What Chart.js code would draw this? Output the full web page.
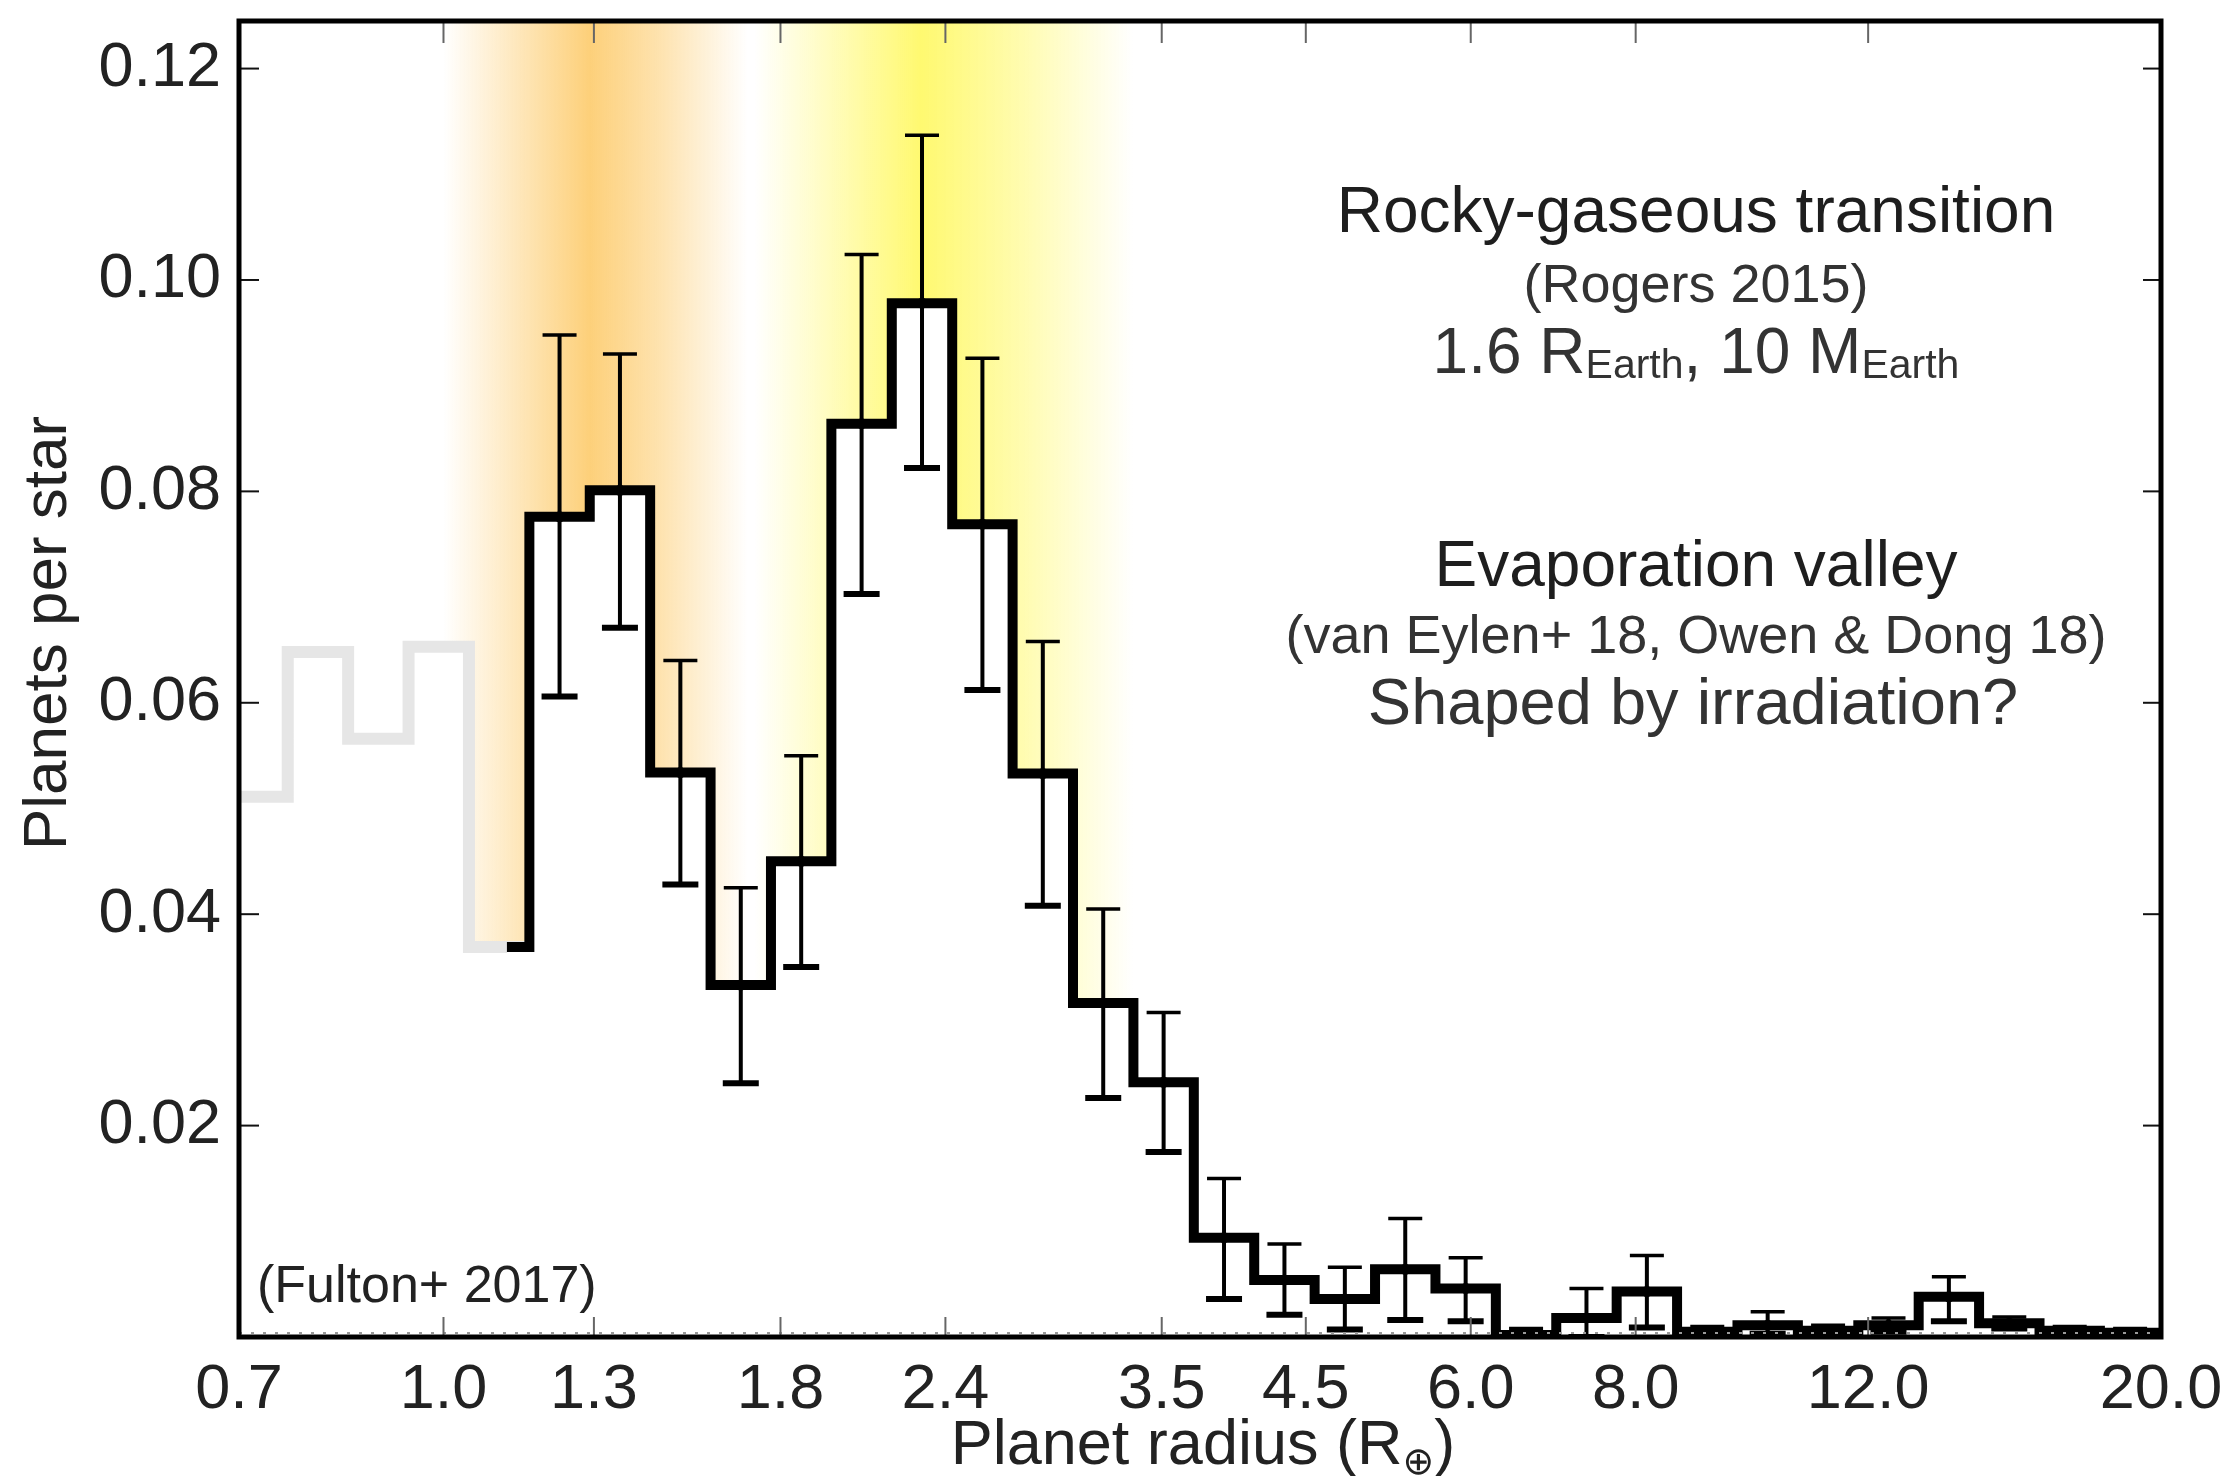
<!DOCTYPE html>
<html>
<head>
<meta charset="utf-8">
<script src="https://cdn.jsdelivr.net/npm/chart.js@4.4.1/dist/chart.umd.min.js"></script>
<style>
  html, body { margin: 0; padding: 0; background: #fff; }
  canvas { display: block; }
</style>
</head>
<body>
<canvas id="radiusChart" width="2232" height="1476"></canvas>
<script>
// Fulton+ 2017 planet radius distribution (log-spaced bins)
const greyEdges = [0.7, 0.7621, 0.8468, 0.9409, 1.0454, 1.1616];
const greyValues = [0.0511, 0.0648, 0.0566, 0.0653, 0.0369];

const blackStart = 1.117;
const blackStartValue = 0.0369;
const binEdges = [1.1616, 1.2906, 1.4340, 1.5934, 1.7704, 1.9671, 2.1857, 2.4286, 2.6984,
  2.9982, 3.3314, 3.7015, 4.1128, 4.5698, 5.0776, 5.6418, 6.2686, 6.9651, 7.7391, 8.5990,
  9.5544, 10.616, 11.796, 13.106, 14.562, 16.181, 17.978, 20.0];
const binCenters = [1.2244, 1.3604, 1.5116, 1.6796, 1.8662, 2.0736, 2.3040, 2.5600, 2.8444,
  3.1605, 3.5116, 3.9018, 4.3354, 4.8171, 5.3523, 5.9470, 6.6078, 7.3420, 8.1578, 9.0642,
  10.071, 11.190, 12.434, 13.815, 15.350, 17.056, 18.951];
const planetsPerStar = [0.0776, 0.0801, 0.0534, 0.0333, 0.0450, 0.0864, 0.0978, 0.0769, 0.0533,
  0.0316, 0.0241, 0.0094, 0.0054, 0.0036, 0.0064, 0.0046, 0.0002, 0.0018, 0.0043, 0.0005,
  0.0011, 0.0006, 0.0011, 0.0038, 0.0013, 0.0006, 0.0004];
const errHigh = [0.0948, 0.0930, 0.0640, 0.0425, 0.0550, 0.1024, 0.1137, 0.0926, 0.0658,
  0.0405, 0.0307, 0.0150, 0.0088, 0.0066, 0.0112, 0.0075, 0.0008, 0.0046, 0.0077, 0.0010,
  0.0024, 0.0011, 0.0018, 0.0057, 0.0019, 0.0010, 0.0008];
const errLow = [0.0606, 0.0671, 0.0428, 0.0240, 0.0350, 0.0703, 0.0822, 0.0612, 0.0408,
  0.0226, 0.0175, 0.0036, 0.0021, 0.0007, 0.0016, 0.0015, 0.0000, 0.0000, 0.0009, 0.0001,
  0.0003, 0.0002, 0.0005, 0.0015, 0.0008, 0.0002, 0.0000];

const xTicks = [0.7, 1.0, 1.3, 1.8, 2.4, 3.5, 4.5, 6.0, 8.0, 12.0, 20.0];
const yTicks = [0.02, 0.04, 0.06, 0.08, 0.10, 0.12];

// shaded bands: radius stops and opacity at each stop
const orangeStops = [1.0, 1.29, 1.46, 1.70];
const orangeAlpha = [0, 1, 0.6, 0];
const yellowStops = [1.72, 2.30, 2.75, 3.33];
const yellowAlpha = [0, 1, 0.55, 0];

const FONT = '"Liberation Sans", "DejaVu Sans", Arial, sans-serif';

const greyPoints = greyEdges.map((x, i) => ({ x: x, y: greyValues[Math.min(i, greyValues.length - 1)] }));
const blackPoints = [{ x: blackStart, y: blackStartValue }]
  .concat(binEdges.map((x, i) => ({ x: x, y: planetsPerStar[Math.min(i, planetsPerStar.length - 1)] })));
const dotPoints = binCenters.map((x, i) => ({ x: x, y: planetsPerStar[i] }));

function bandGradient(ctx, xs, area, stops, alphas, rgb) {
  const px = stops.map(v => xs.getPixelForValue(v));
  const x0 = px[0], x1 = px[px.length - 1];
  const g = ctx.createLinearGradient(x0, 0, x1, 0);
  px.forEach((p, i) => g.addColorStop((p - x0) / (x1 - x0), 'rgba(' + rgb + ',' + alphas[i] + ')'));
  ctx.fillStyle = g;
  ctx.fillRect(x0, area.top, x1 - x0, area.bottom - area.top);
}

const bandsPlugin = {
  id: 'bands',
  beforeDatasetsDraw(chart) {
    const ctx = chart.ctx, area = chart.chartArea, xs = chart.scales.x;
    ctx.save();
    ctx.beginPath();
    ctx.rect(area.left, area.top, area.right - area.left, area.bottom - area.top);
    ctx.clip();
    bandGradient(ctx, xs, area, orangeStops, orangeAlpha, '253,208,122');
    bandGradient(ctx, xs, area, yellowStops, yellowAlpha, '255,249,112');
    ctx.restore();
  }
};

const errorBarsPlugin = {
  id: 'errorBars',
  afterDatasetsDraw(chart) {
    const ctx = chart.ctx, area = chart.chartArea, xs = chart.scales.x, ys = chart.scales.y;
    ctx.save();
    ctx.beginPath();
    ctx.rect(area.left, area.top, area.right - area.left, area.bottom - area.top);
    ctx.clip();
    ctx.strokeStyle = '#000';
    binCenters.forEach((c, i) => {
      const x = xs.getPixelForValue(c);
      const yt = ys.getPixelForValue(errHigh[i]);
      const yb = ys.getPixelForValue(errLow[i]);
      ctx.lineWidth = 4;
      ctx.beginPath(); ctx.moveTo(x, yt); ctx.lineTo(x, yb); ctx.stroke();
      ctx.lineWidth = 3.5;
      ctx.beginPath(); ctx.moveTo(x - 17, yt); ctx.lineTo(x + 17, yt); ctx.stroke();
      ctx.lineWidth = 6;
      ctx.beginPath(); ctx.moveTo(x - 18, yb); ctx.lineTo(x + 18, yb); ctx.stroke();
    });
    ctx.restore();
  }
};

const framePlugin = {
  id: 'frame',
  afterDraw(chart) {
    const ctx = chart.ctx, a = chart.chartArea, xs = chart.scales.x, ys = chart.scales.y;
    ctx.save();
    // dotted minor ticks along the bottom
    ctx.strokeStyle = '#999';
    ctx.lineWidth = 2;
    ctx.setLineDash([3, 9]);
    ctx.beginPath(); ctx.moveTo(a.left, a.bottom - 4); ctx.lineTo(a.right, a.bottom - 4); ctx.stroke();
    ctx.setLineDash([]);
    // inward major ticks
    ctx.lineWidth = 2;
    ctx.strokeStyle = '#666';
    xTicks.forEach(v => {
      const x = xs.getPixelForValue(v);
      ctx.beginPath(); ctx.moveTo(x, a.bottom); ctx.lineTo(x, a.bottom - 20); ctx.stroke();
      ctx.beginPath(); ctx.moveTo(x, a.top); ctx.lineTo(x, a.top + 22); ctx.stroke();
    });
    ctx.strokeStyle = '#111';
    yTicks.forEach(v => {
      const y = ys.getPixelForValue(v);
      ctx.beginPath(); ctx.moveTo(a.left, y); ctx.lineTo(a.left + 20, y); ctx.stroke();
      ctx.beginPath(); ctx.moveTo(a.right, y); ctx.lineTo(a.right - 18, y); ctx.stroke();
    });
    // box
    ctx.lineWidth = 5;
    ctx.strokeStyle = '#000';
    ctx.strokeRect(a.left, a.top, a.right - a.left, a.bottom - a.top);
    ctx.restore();
  }
};

// text made of parts [text, size, dy], centred on cx
function richText(ctx, parts, cx, y, align) {
  let w = 0;
  parts.forEach(p => { ctx.font = p[1] + 'px ' + FONT; w += ctx.measureText(p[0]).width; });
  let x = align === 'left' ? cx : cx - w / 2;
  ctx.textAlign = 'left';
  parts.forEach(p => {
    ctx.font = p[1] + 'px ' + FONT;
    ctx.fillText(p[0], x, y + (p[2] || 0));
    x += ctx.measureText(p[0]).width;
  });
}

const notesPlugin = {
  id: 'notes',
  afterDraw(chart) {
    const ctx = chart.ctx;
    ctx.save();
    ctx.textBaseline = 'alphabetic';
    ctx.fillStyle = '#1e1e1e';
    richText(ctx, [['Rocky-gaseous transition', 64]], 1696, 232);
    richText(ctx, [['Evaporation valley', 64]], 1696, 586);
    ctx.fillStyle = '#333';
    richText(ctx, [['(Rogers 2015)', 54]], 1696, 302);
    richText(ctx, [['1.6 R', 64], ['Earth', 41, 5], [', 10 M', 64], ['Earth', 41, 5]], 1696, 373);
    richText(ctx, [['(van Eylen+ 18, Owen & Dong 18)', 54]], 1696, 653);
    richText(ctx, [['Shaped by irradiation?', 65]], 1693, 724);
    ctx.fillStyle = '#222';
    richText(ctx, [['(Fulton+ 2017)', 52]], 257, 1302, 'left');
    // axis titles
    richText(ctx, [['Planet radius (R', 63], ['\u2295', 38, 10], [')', 63]], 1203, 1464);
    ctx.translate(66, 633);
    ctx.rotate(-Math.PI / 2);
    richText(ctx, [['Planets per star', 62]], 0, 0);
    ctx.restore();
  }
};

new Chart(document.getElementById('radiusChart'), {
  type: 'line',
  data: {
    datasets: [
      {
        data: greyPoints,
        order: 3,
        stepped: true,
        borderColor: '#e6e6e6',
        borderWidth: 12,
        fill: 'origin',
        backgroundColor: '#ffffff',
        pointRadius: 0
      },
      {
        data: blackPoints,
        order: 2,
        stepped: true,
        borderColor: '#000',
        borderWidth: 10,
        fill: 'origin',
        backgroundColor: '#ffffff',
        pointRadius: 0
      },
      {
        data: dotPoints,
        order: 1,
        showLine: false,
        pointRadius: 5.5,
        pointBackgroundColor: '#000',
        pointBorderWidth: 0
      }
    ]
  },
  options: {
    responsive: false,
    animation: false,
    devicePixelRatio: 1,
    layout: { padding: { top: 21, right: 71, left: 0, bottom: 0 } },
    plugins: {
      legend: { display: false },
      tooltip: { enabled: false }
    },
    scales: {
      x: {
        type: 'logarithmic',
        min: 0.7,
        max: 20,
        grid: { display: false, drawTicks: false },
        border: { display: false },
        afterBuildTicks: s => { s.ticks = xTicks.map(v => ({ value: v })); },
        afterFit: s => { s.height = 139; s.paddingLeft = 0; s.paddingRight = 0; },
        ticks: {
          autoSkip: false,
          maxRotation: 0,
          padding: 16,
          color: '#222',
          font: { family: FONT, size: 63 },
          callback: v => Number(v).toFixed(1)
        }
      },
      y: {
        min: 0,
        max: 0.1245,
        grid: { display: false, drawTicks: false },
        border: { display: false },
        afterBuildTicks: s => { s.ticks = yTicks.map(v => ({ value: v })); },
        afterFit: s => { s.width = 239; s.paddingTop = 0; s.paddingBottom = 0; },
        ticks: {
          padding: 18,
          color: '#222',
          font: { family: FONT, size: 63 },
          callback: v => Number(v).toFixed(2)
        }
      }
    }
  },
  plugins: [bandsPlugin, errorBarsPlugin, framePlugin, notesPlugin]
});
</script>
</body>
</html>
